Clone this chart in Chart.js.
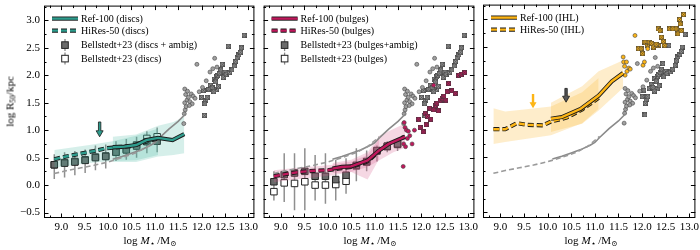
<!DOCTYPE html>
<html>
<head>
<meta charset="utf-8">
<script src="https://cdn.jsdelivr.net/npm/chart.js@4.4.1/dist/chart.umd.min.js"></script>
<style>
  body { margin: 0; background: #fff; }
  #wrap { position: relative; width: 700px; height: 250px; overflow: hidden; font-family: "Liberation Serif", "DejaVu Serif", serif; color: #000; }
  #wrap canvas { position: absolute; top: 0; }
  .xlab { position: absolute; top: 234px; width: 200px; text-align: center; font-size: 11px; line-height: 13px; }
  .ylab { position: absolute; left: -45px; top: 95px; width: 110px; text-align: center; font-size: 11px; line-height: 13px; transform: rotate(-90deg); }
  sub { font-size: 7.5px; vertical-align: -2px; line-height: 0; }
</style>
</head>
<body>
<div id="wrap">
  <canvas id="p1" width="260" height="250" style="left:0px"></canvas>
  <canvas id="p2" width="222" height="250" style="left:258px"></canvas>
  <canvas id="p3" width="222" height="250" style="left:478px"></canvas>
  <div class="ylab">log R<sub>50</sub>/kpc</div>
  <div class="xlab" style="left:50px">log <i>M</i><sub>⋆</sub> /M<sub>⊙</sub></div>
  <div class="xlab" style="left:270px">log <i>M</i><sub>⋆</sub> /M<sub>⊙</sub></div>
  <div class="xlab" style="left:491px">log <i>M</i><sub>⋆</sub> /M<sub>⊙</sub></div>
</div>
<script>
// AXES
const xTicks = [9.0, 9.5, 10.0, 10.5, 11.0, 11.5, 12.0, 12.5, 13.0];
const yTicks = [-0.5, 0.0, 0.5, 1.0, 1.5, 2.0, 2.5, 3.0];
const xRange = [8.63, 13.13];
const yRange = [-0.6, 3.27];

// TOTAL SIZE (grey, same in every panel)
const totRef = [[10.1,0.47],[10.3,0.52],[10.5,0.58],[10.7,0.64],[10.9,0.72],[11.0,0.77],[11.1,0.86],[11.3,1.02],[11.5,1.16],[11.65,1.29]];
const totHiRes = [[8.85,0.21],[9.1,0.26],[9.4,0.31],[9.7,0.36],[10.0,0.42],[10.3,0.5],[10.6,0.59],[10.85,0.7],[11.1,0.88]];
const greyCircles = [[11.62,1.12],[11.63,1.3],[11.65,1.37],[11.67,1.43],[11.64,1.5],[11.69,1.55],[11.72,1.6],[11.66,1.65],[11.75,1.52],[11.64,1.75],[11.7,1.71],[11.78,1.66],[11.82,1.62],[11.8,1.48],[11.74,1.45],[11.86,1.58],[11.9,2.2],[12.02,1.78],[12.1,1.9],[12.18,2.06],[12.28,2.31],[12.24,2.12],[12.33,2.15],[11.95,1.7]];
const greySquares = [[12.0,1.6],[12.04,1.72],[12.06,1.27],[12.09,1.54],[12.12,1.6],[12.07,1.48],[12.15,1.75],[12.19,1.82],[12.23,1.77],[12.27,1.93],[12.3,1.88],[12.33,1.97],[12.35,2.0],[12.38,2.04],[12.41,2.1],[12.44,2.2],[12.46,1.96],[12.5,2.06],[12.53,2.02],[12.57,2.53],[12.6,2.05],[12.65,2.1],[12.7,2.17],[12.73,2.25],[12.76,2.32],[12.8,2.37],[12.85,2.5],[12.91,2.73],[12.83,2.42],[12.32,1.74],[12.36,1.8],[12.26,1.7]];

// OBSERVATIONS (Bellstedt+23)
const obsBins = [8.85, 9.07, 9.29, 9.51, 9.73, 9.95, 10.17, 10.39, 10.61, 10.83, 11.05, 11.27, 11.49];
const discAmbig = [0.37, 0.4, 0.42, 0.45, 0.5, 0.52, 0.6, 0.64, 0.71, 0.79, 0.8];
const discOnly  = [0.37, 0.41, 0.43, 0.46, 0.51, 0.53, 0.6, 0.65, 0.73, 0.85, 0.88];
const discLo    = [0.11, 0.14, 0.18, 0.22, 0.27, 0.3, 0.44, 0.46, 0.5, 0.58, 0.6];
const discHi    = [0.56, 0.6, 0.62, 0.65, 0.72, 0.74, 0.8, 0.84, 0.88, 0.98, 1.05];
const bulgeAmbig = [0.06, 0.19, 0.22, 0.25, 0.16, 0.16, 0.1, 0.18, 0.36, 0.43, 0.63, 0.71, 0.75];
const bulgeOnly  = [-0.12, 0.04, 0.03, 0.06, 0.0, 0.0, 0.01, 0.07, 0.35, 0.42, 0.62, 0.7, 0.74];
const bulgeLo    = [-0.28, -0.31, -0.46, -0.46, -0.28, -0.34, -0.28, -0.16, 0.07, 0.25, 0.43, 0.6, 0.62];
const bulgeHi    = [0.25, 0.58, 0.58, 0.67, 0.55, 0.58, 0.46, 0.49, 0.67, 0.63, 0.72, 0.8, 0.85];

// DISCS
const discRef = [[10.1,0.69],[10.35,0.7],[10.6,0.73],[10.82,0.82],[11.07,0.86],[11.38,0.82],[11.63,0.93]];
const discHiRes = [[8.85,0.47],[9.1,0.52],[9.4,0.57],[9.7,0.62],[9.96,0.67],[10.2,0.69],[10.5,0.71],[10.85,0.8],[11.07,0.85]];
const discRefUp = [[10.1,0.88],[10.6,0.92],[11.07,1.08],[11.4,1.15],[11.63,1.25]];
const discRefLo = [[10.1,0.42],[10.6,0.42],[11.07,0.52],[11.4,0.55],[11.63,0.58]];
const discHiUp = [[8.85,0.64],[9.6,0.73],[10.1,0.8],[10.6,0.9],[11.07,1.03]];
const discHiLo = [[8.85,0.32],[9.6,0.4],[10.1,0.44],[10.6,0.45],[11.07,0.55]];

// BULGES
const bulgeRef = [[10.1,0.3],[10.3,0.33],[10.5,0.34],[10.85,0.45],[11.08,0.62],[11.3,0.75],[11.65,0.88]];
const bulgeHiRes = [[8.85,0.16],[9.1,0.2],[9.4,0.24],[9.7,0.26],[10.0,0.27],[10.3,0.31],[10.5,0.33],[10.85,0.43],[11.1,0.62]];
const bulgeRefUp = [[10.1,0.4],[10.5,0.46],[10.85,0.6],[11.1,0.9],[11.4,1.02],[11.65,1.12]];
const bulgeRefLo = [[10.1,0.22],[10.5,0.24],[10.85,0.33],[11.1,0.45],[11.4,0.6],[11.65,0.68]];
const bulgeHiUp = [[8.85,0.27],[9.3,0.31],[9.7,0.34],[10.1,0.37],[10.5,0.43],[10.85,0.55],[11.1,0.85]];
const bulgeHiLo = [[8.85,0.05],[9.3,0.1],[9.7,0.14],[10.1,0.18],[10.5,0.24],[10.85,0.1],[11.1,0.48]];
const bulgeCircles = [[11.63,1.14],[11.65,1.05],[11.68,1.0],[11.72,0.98],[11.61,0.87],[11.62,0.75],[11.66,0.7],[11.61,0.34],[11.8,0.75],[11.75,0.9],[12.26,1.82],[11.85,1.0],[11.7,0.85]];
const bulgeSquares = [[11.94,1.2],[11.97,1.05],[12.04,0.97],[12.08,1.3],[12.13,1.25],[12.18,1.4],[12.26,1.37],[12.3,1.45],[12.33,1.49],[12.4,1.55],[12.44,1.58],[12.48,1.62],[12.52,1.55],[12.58,1.85],[12.65,1.72],[12.72,1.67],[12.79,2.0],[12.86,2.02],[12.92,2.05],[12.2,1.2],[12.1,1.1],[12.36,1.35],[12.55,1.7]];

// IHL
const ihlRef = [[10.07,1.2],[10.3,1.23],[10.7,1.38],[11.08,1.62],[11.36,1.88],[11.6,2.03]];
const ihlHiRes = [[8.85,1.01],[9.1,1.01],[9.35,1.12],[9.55,1.09],[9.9,1.08],[10.07,1.15],[10.4,1.22],[10.73,1.37],[11.08,1.58]];
const ihlRefUp = [[10.07,1.49],[10.73,1.79],[11.08,2.06],[11.6,2.26]];
const ihlRefLo = [[10.07,0.96],[10.73,1.11],[11.08,1.35],[11.6,1.76]];
const ihlHiUp = [[8.85,1.39],[9.1,1.33],[9.4,1.36],[10.07,1.42],[10.73,1.68],[11.08,1.94]];
const ihlHiLo = [[8.85,0.74],[9.1,0.78],[9.6,0.84],[10.07,0.9],[10.73,1.12],[11.08,1.38]];
const ihlCircles = [[11.6,2.32],[11.61,2.23],[11.63,2.15],[11.67,2.23],[11.68,2.06],[11.72,2.12],[11.64,1.99],[11.85,2.71],[12.02,2.17],[12.05,2.23],[12.12,2.47],[11.75,2.1]];
const ihlSquares = [[11.92,2.47],[11.98,2.47],[12.01,2.38],[12.06,2.59],[12.12,2.53],[12.15,2.59],[12.2,2.57],[12.24,2.5],[12.34,2.83],[12.38,2.8],[12.41,2.68],[12.34,2.53],[12.48,2.53],[12.58,2.83],[12.65,2.83],[12.72,2.83],[12.76,2.74],[12.79,3.0],[12.81,2.92],[12.88,3.09],[12.83,2.8],[12.3,2.55],[12.45,2.6]];

// ARROWS [x, top, tip]
const discArrow = [9.82, 1.15, 0.88];
const ihlArrow = [9.69, 1.65, 1.39];
const ihlArrowHi = [10.39, 1.75, 1.5];

const TEAL = "#2e9c8d", PINK = "#c0185c", GOLD = "#fdb515";
const FONT = "Liberation Serif";

const P = a => a.map(([x, y]) => ({ x, y }));
const zip = (xs, ys) => ys.map((y, i) => ({ x: xs[i], y }));
function errData(xs, lo, hi) {
  const d = [];
  lo.forEach((l, i) => d.push({ x: xs[i], y: l }, { x: xs[i], y: hi[i] }, { x: xs[i], y: null }));
  return d;
}

// hatched square marker
function hatch(fill) {
  const c = document.createElement("canvas");
  c.width = c.height = 5;
  const g = c.getContext("2d");
  g.fillStyle = fill; g.fillRect(0, 0, 5, 5);
  g.strokeStyle = "#3a3a3a"; g.lineWidth = 0.6;
  g.strokeRect(0.3, 0.3, 4.4, 4.4);
  g.beginPath();
  g.moveTo(1, 1); g.lineTo(4, 4); g.moveTo(4, 1); g.lineTo(1, 4);
  g.stroke();
  return c;
}

function line(data, color, width, dash, order) {
  return { data: P(data), showLine: true, borderColor: color, borderWidth: width, borderDash: dash,
    pointRadius: 0, fill: false, order: order, tension: 0 };
}
function outlined(data, color, dash, order) {
  return [line(data, "#1b1b1b", 4.2, dash, order + 1), line(data, color, 2.4, dash, order)];
}
function band(up, lo, rgba) {
  return [
    { data: P(lo), showLine: true, borderWidth: 0, pointRadius: 0, fill: false, order: 90 },
    { data: P(up), showLine: true, borderWidth: 0, pointRadius: 0, fill: "-1", backgroundColor: rgba, order: 90 }
  ];
}
function scatter(data, style, color, order) {
  return { data: P(data), pointStyle: style, pointRadius: style === "circle" ? 2 : 3,
    backgroundColor: color, borderColor: "#444", borderWidth: 0.6, order: order };
}

// frame with inward ticks
const framePlugin = {
  id: "frame",
  afterDraw(chart) {
    const { ctx, chartArea: a, scales: { x, y } } = chart;
    ctx.save();
    ctx.strokeStyle = "#000";
    ctx.lineWidth = 1;
    ctx.strokeRect(a.left + 0.5, a.top + 0.5, a.right - a.left - 1, a.bottom - a.top - 1);
    ctx.beginPath();
    const xs = [], ys = [];
    xTicks.forEach(v => { xs.push([v, 4.5]); xs.push([v - 0.25, 2.5]); });
    xs.push([xTicks[xTicks.length - 1] + 0.25, 2.5]);
    yTicks.forEach(v => { ys.push([v, 4.5]); ys.push([v - 0.25, 2.5]); });
    ys.push([yTicks[yTicks.length - 1] + 0.25, 2.5]);
    xs.forEach(([v, l]) => {
      if (v <= xRange[0] || v >= xRange[1]) return;
      const p = Math.round(x.getPixelForValue(v)) + 0.5;
      ctx.moveTo(p, a.bottom); ctx.lineTo(p, a.bottom - l);
      ctx.moveTo(p, a.top); ctx.lineTo(p, a.top + l);
    });
    ys.forEach(([v, l]) => {
      if (v <= yRange[0] || v >= yRange[1]) return;
      const p = Math.round(y.getPixelForValue(v)) + 0.5;
      ctx.moveTo(a.left, p); ctx.lineTo(a.left + l, p);
      ctx.moveTo(a.right, p); ctx.lineTo(a.right - l, p);
    });
    ctx.stroke();
    ctx.restore();
  }
};

// arrows
const arrowPlugin = {
  id: "arrows",
  afterDatasetsDraw(chart, args, opts) {
    const { ctx, scales: { x, y } } = chart;
    (opts.items || []).forEach(([a, fill, edge]) => {
      const px = x.getPixelForValue(a[0]), top = y.getPixelForValue(a[1]), tip = y.getPixelForValue(a[2]);
      const hw = 3.5, hh = 6, sw = 1.2;
      ctx.save();
      ctx.beginPath();
      ctx.moveTo(px - sw, top); ctx.lineTo(px + sw, top); ctx.lineTo(px + sw, tip - hh);
      ctx.lineTo(px + hw, tip - hh); ctx.lineTo(px, tip); ctx.lineTo(px - hw, tip - hh);
      ctx.lineTo(px - sw, tip - hh); ctx.closePath();
      ctx.fillStyle = fill; ctx.fill();
      if (edge) { ctx.strokeStyle = edge; ctx.lineWidth = 0.8; ctx.stroke(); }
      ctx.restore();
    });
  }
};

// legend inside the axes
const legendPlugin = {
  id: "miniLegend",
  afterDraw(chart, args, opts) {
    const { ctx, chartArea: a } = chart;
    const rows = [13, 25, 39.5, 53];
    ctx.save();
    ctx.font = "10px '" + FONT + "'";
    ctx.textBaseline = "middle";
    (opts.items || []).forEach((it, i) => {
      const yy = a.top + rows[i], x0 = a.left + 8, x1 = a.left + 34, xm = (x0 + x1) / 2;
      if (it.kind === "line") {
        ctx.setLineDash(it.dash || []);
        ctx.lineCap = "butt";
        ctx.strokeStyle = "#1b1b1b"; ctx.lineWidth = 4.2;
        ctx.beginPath(); ctx.moveTo(x0, yy); ctx.lineTo(x1, yy); ctx.stroke();
        ctx.strokeStyle = it.color; ctx.lineWidth = 2.4;
        ctx.beginPath(); ctx.moveTo(x0, yy); ctx.lineTo(x1, yy); ctx.stroke();
        ctx.setLineDash([]);
      } else {
        ctx.strokeStyle = "#888"; ctx.lineWidth = 1.3;
        ctx.beginPath(); ctx.moveTo(xm, yy - 6); ctx.lineTo(xm, yy + 6); ctx.stroke();
        ctx.fillStyle = it.kind === "filled" ? "#6b6b6b" : "#fff";
        ctx.strokeStyle = "#222"; ctx.lineWidth = 1;
        ctx.fillRect(xm - 3.3, yy - 3.3, 6.6, 6.6);
        ctx.strokeRect(xm - 3.3, yy - 3.3, 6.6, 6.6);
      }
      ctx.fillStyle = "#000";
      ctx.fillText(it.label, a.left + 37, yy + 0.5);
    });
    ctx.restore();
  }
};

function makeScales(showY) {
  return {
    x: {
      type: "linear", min: xRange[0], max: xRange[1],
      afterBuildTicks: s => { s.ticks = xTicks.map(v => ({ value: v })); },
      afterFit: s => { s.height = 32; s.paddingLeft = 0; s.paddingRight = 0; },
      grid: { display: false, drawTicks: false }, border: { display: false },
      ticks: { color: "#000", font: { family: FONT, size: 11 }, padding: 3, maxRotation: 0, autoSkip: false,
        callback: v => v.toFixed(1) }
    },
    y: {
      type: "linear", min: yRange[0], max: yRange[1],
      afterBuildTicks: s => { s.ticks = yTicks.map(v => ({ value: v })); },
      afterFit: s => { s.width = showY ? 44 : 5; s.paddingTop = 0; s.paddingBottom = 0; },
      grid: { display: false, drawTicks: false }, border: { display: false },
      ticks: { display: showY, color: "#000", font: { family: FONT, size: 11 }, padding: 4,
        callback: v => (v < 0 ? "\u2212" : "") + Math.abs(v).toFixed(1) }
    }
  };
}

function panel(id, showY, rightPad, datasets, legendItems, arrows) {
  new Chart(document.getElementById(id), {
    type: "scatter",
    data: { datasets: datasets },
    options: {
      responsive: false, animation: false, events: [],
      layout: { padding: { left: 0, right: rightPad, top: 1, bottom: 0 } },
      scales: makeScales(showY),
      plugins: { legend: { display: false }, tooltip: { enabled: false },
        miniLegend: { items: legendItems }, arrows: { items: arrows } }
    },
    plugins: [framePlugin, arrowPlugin, legendPlugin]
  });
}

function greyStuff() {
  return [
    scatter(greyCircles, "circle", "#a0a0a0", 86),
    scatter(greySquares, hatch("#9a9a9a"), "#9a9a9a", 86),
    line(totHiRes, "#9a9a9a", 1.6, [5, 3], 80),
    line(totRef, "#8a8a8a", 1.6, [], 80)
  ];
}
function obsStuff(n, filled, open, lo, hi) {
  const xs = obsBins.slice(0, n);
  return [
    { data: errData(xs, lo, hi), showLine: true, spanGaps: false, borderColor: "#8f8f8f", borderWidth: 1.5, pointRadius: 0, order: 100 },
    { data: zip(xs, open), pointStyle: "rect", pointRadius: 4.6, backgroundColor: "#fff", borderColor: "#222", borderWidth: 1, order: 96 },
    { data: zip(xs, filled), pointStyle: "rect", pointRadius: 4.6, backgroundColor: "#6b6b6b", borderColor: "#222", borderWidth: 1, order: 95 }
  ];
}

// PANEL 1: DISCS
panel("p1", true, 4, [
  ...obsStuff(11, discAmbig, discOnly, discLo, discHi),
  ...band(discHiUp, discHiLo, "rgba(70,180,160,0.22)"),
  ...band(discRefUp, discRefLo, "rgba(70,180,160,0.22)"),
  ...greyStuff(),
  ...outlined(discHiRes, TEAL, [6, 3], 72),
  ...outlined(discRef, TEAL, [], 70)
], [
  { kind: "line", color: TEAL, label: "Ref-100 (discs)" },
  { kind: "line", color: TEAL, dash: [6, 3], label: "HiRes-50 (discs)" },
  { kind: "filled", label: "Bellstedt+23 (discs + ambig)" },
  { kind: "open", label: "Bellstedt+23 (discs)" }
], [[discArrow, TEAL, "#1b1b1b"]]);

// PANEL 2: BULGES
panel("p2", false, 4, [
  ...obsStuff(13, bulgeAmbig, bulgeOnly, bulgeLo, bulgeHi),
  ...band(bulgeHiUp, bulgeHiLo, "rgba(214,95,145,0.25)"),
  ...band(bulgeRefUp, bulgeRefLo, "rgba(214,95,145,0.25)"),
  ...greyStuff(),
  scatter(bulgeCircles, "circle", PINK, 84),
  scatter(bulgeSquares, hatch(PINK), PINK, 84),
  ...outlined(bulgeHiRes, PINK, [6, 3], 72),
  ...outlined(bulgeRef, PINK, [], 70)
], [
  { kind: "line", color: PINK, label: "Ref-100 (bulges)" },
  { kind: "line", color: PINK, dash: [6, 3], label: "HiRes-50 (bulges)" },
  { kind: "filled", label: "Bellstedt+23 (bulges+ambig)" },
  { kind: "open", label: "Bellstedt+23 (bulges)" }
], []);

// PANEL 3: IHL
panel("p3", false, 1, [
  ...band(ihlHiUp, ihlHiLo, "rgba(253,190,70,0.28)"),
  ...band(ihlRefUp, ihlRefLo, "rgba(253,190,70,0.28)"),
  ...greyStuff(),
  scatter(ihlCircles, "circle", GOLD, 84),
  scatter(ihlSquares, hatch(GOLD), GOLD, 84),
  ...outlined(ihlHiRes, GOLD, [6, 3], 72),
  ...outlined(ihlRef, GOLD, [], 70)
], [
  { kind: "line", color: GOLD, label: "Ref-100 (IHL)" },
  { kind: "line", color: GOLD, dash: [6, 3], label: "HiRes-50 (IHL)" }
], [[ihlArrow, GOLD, null], [ihlArrowHi, "#555", "#1b1b1b"]]);
</script>
</body>
</html>
